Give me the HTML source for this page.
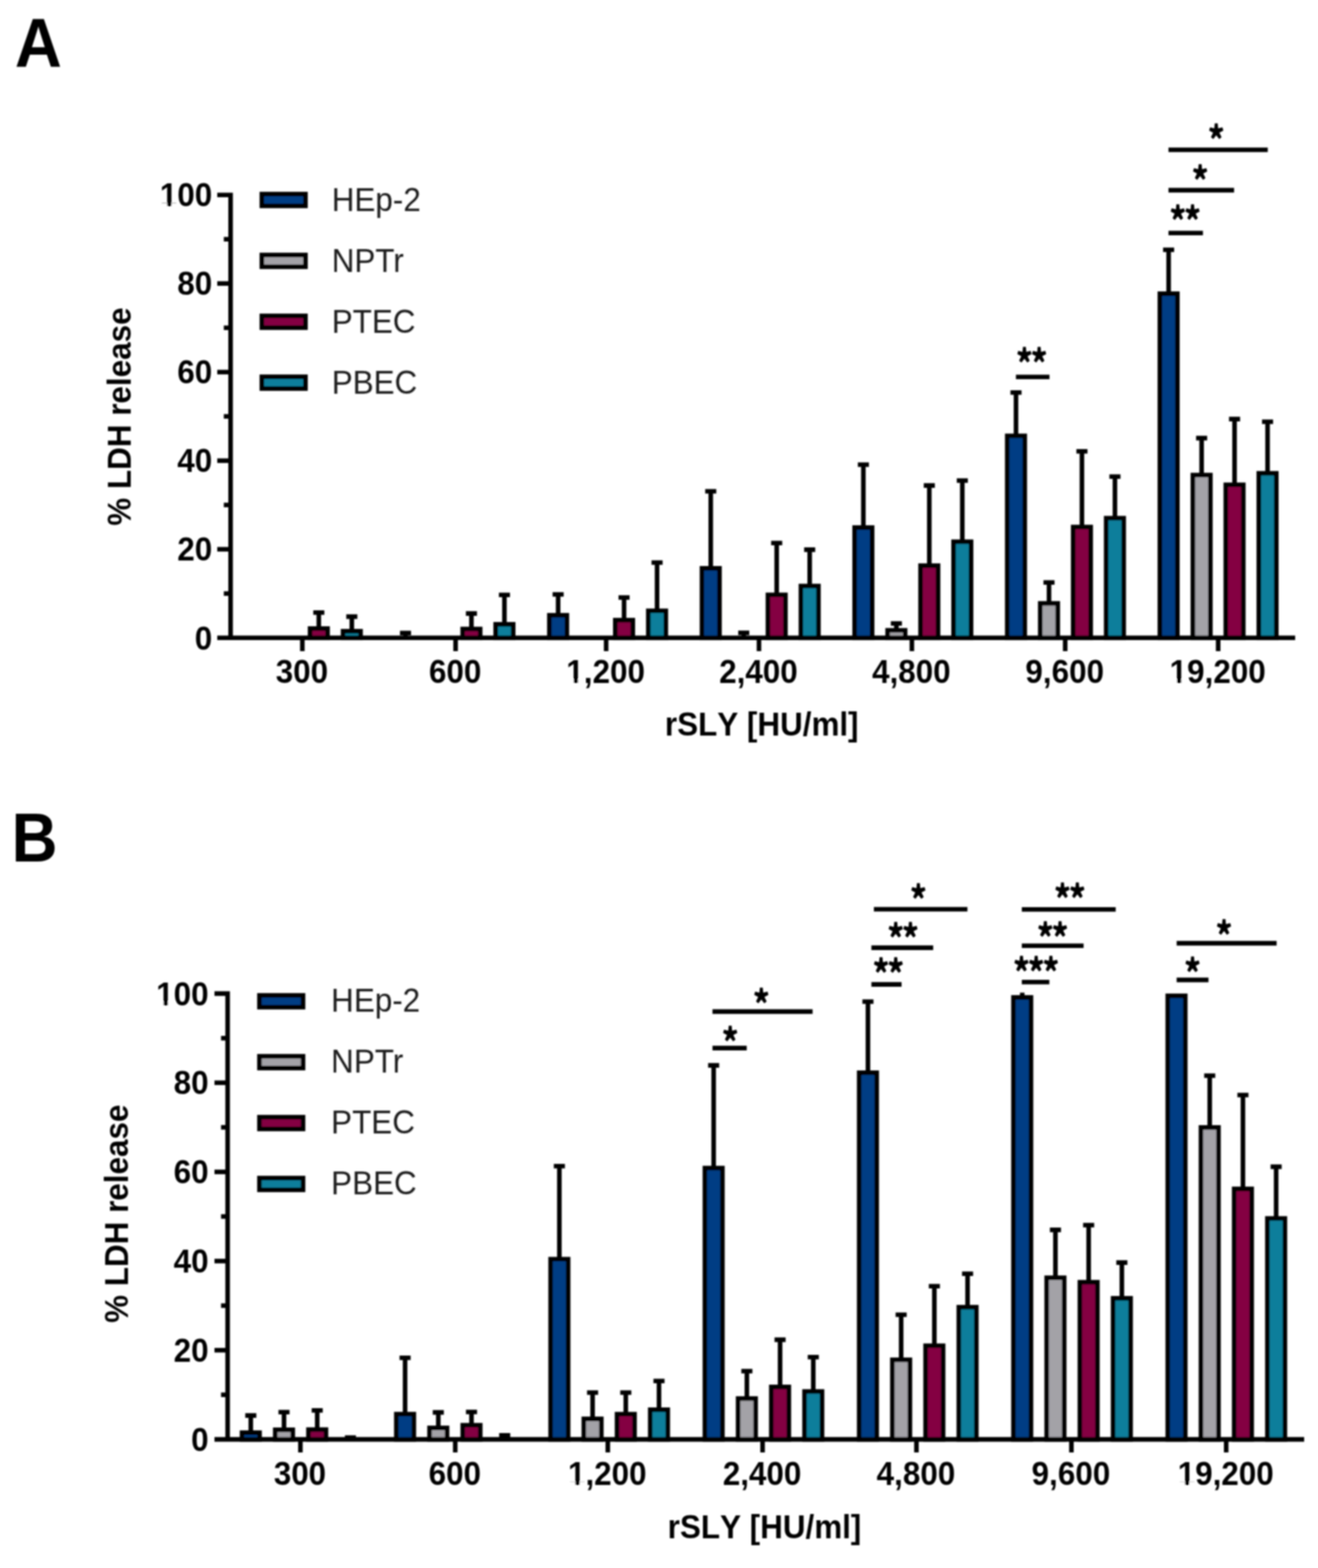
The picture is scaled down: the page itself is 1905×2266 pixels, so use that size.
<!DOCTYPE html>
<html><head><meta charset="utf-8"><title>LDH release</title>
<style>
html,body{margin:0;padding:0;background:#fff;}
::-webkit-scrollbar{display:none;}
svg{display:block;}
svg text{font-family:"Liberation Sans",Arial,sans-serif;font-kerning:none;}
</style></head><body>
<svg width="1905" height="2266" viewBox="0 0 1905 2266">
<rect width="1905" height="2266" fill="#fff"/>
<defs><filter id="bl" filterUnits="userSpaceOnUse" x="0" y="0" width="1905" height="2266"><feGaussianBlur stdDeviation="0.9"/></filter></defs>
<g id="c" filter="url(#bl)" stroke="#000" stroke-width="6.6" stroke-linejoin="miter">
<path fill="none" d="M314 281.70H333.3V921.8" />
<path fill="none" d="M314 921.8H1872" />
<path fill="none" d="M314 793.78H333.3" />
<path fill="none" d="M314 665.76H333.3" />
<path fill="none" d="M314 537.74H333.3" />
<path fill="none" d="M314 409.72H333.3" />
<path fill="none" d="M323.5 857.79H333.3" />
<path fill="none" d="M323.5 729.77H333.3" />
<path fill="none" d="M323.5 601.75H333.3" />
<path fill="none" d="M323.5 473.73H333.3" />
<path fill="none" d="M323.5 345.71H333.3" />
<path fill="none" d="M437.00 921.8V941" />
<path fill="none" d="M658.50 921.8V941" />
<path fill="none" d="M876.10 921.8V941" />
<path fill="none" d="M1097.00 921.8V941" />
<path fill="none" d="M1318.00 921.8V941" />
<path fill="none" d="M1539.60 921.8V941" />
<path fill="none" d="M1760.70 921.8V941" />
<rect x="448.15" y="908.36" width="25.3" height="13.44" fill="#840042" />
<path fill="none" d="M460.80 908.36V885.31M452.80 885.31h16" />
<rect x="495.85" y="912.20" width="25.3" height="9.60" fill="#0a7e9b" />
<path fill="none" d="M508.50 912.20V891.08M500.50 891.08h16" />
<path fill="none" d="M586.10 921.80V914.76M578.10 914.76h16" />
<rect x="668.75" y="909.00" width="25.3" height="12.80" fill="#840042" />
<path fill="none" d="M681.40 909.00V886.59M673.40 886.59h16" />
<rect x="716.45" y="902.21" width="25.3" height="19.59" fill="#0a7e9b" />
<path fill="none" d="M729.10 902.21V859.71M721.10 859.71h16" />
<rect x="794.05" y="889.15" width="25.3" height="32.65" fill="#063d84" />
<path fill="none" d="M806.70 889.15V859.07M798.70 859.07h16" />
<rect x="889.35" y="896.20" width="25.3" height="25.60" fill="#840042" />
<path fill="none" d="M902.00 896.20V863.55M894.00 863.55h16" />
<rect x="937.05" y="882.75" width="25.3" height="39.05" fill="#0a7e9b" />
<path fill="none" d="M949.70 882.75V812.98M941.70 812.98h16" />
<rect x="1014.65" y="821.30" width="25.3" height="100.50" fill="#063d84" />
<path fill="none" d="M1027.30 821.30V709.93M1019.30 709.93h16" />
<path fill="none" d="M1075.00 921.80V914.44M1067.00 914.44h16" />
<rect x="1109.95" y="859.71" width="25.3" height="62.09" fill="#840042" />
<path fill="none" d="M1122.60 859.71V784.82M1114.60 784.82h16" />
<rect x="1157.65" y="846.91" width="25.3" height="74.89" fill="#0a7e9b" />
<path fill="none" d="M1170.30 846.91V794.42M1162.30 794.42h16" />
<rect x="1235.25" y="762.42" width="25.3" height="159.38" fill="#063d84" />
<path fill="none" d="M1247.90 762.42V671.52M1239.90 671.52h16" />
<rect x="1282.95" y="910.92" width="25.3" height="10.88" fill="#a3a2a7" />
<path fill="none" d="M1295.60 910.92V901.00M1287.60 901.00h16" />
<rect x="1330.55" y="817.46" width="25.3" height="104.34" fill="#840042" />
<path fill="none" d="M1343.20 817.46V701.61M1335.20 701.61h16" />
<rect x="1378.25" y="782.90" width="25.3" height="138.90" fill="#0a7e9b" />
<path fill="none" d="M1390.90 782.90V694.56M1382.90 694.56h16" />
<rect x="1455.85" y="629.91" width="25.3" height="291.89" fill="#063d84" />
<path fill="none" d="M1468.50 629.91V567.18M1460.50 567.18h16" />
<rect x="1503.55" y="872.00" width="25.3" height="49.80" fill="#a3a2a7" />
<path fill="none" d="M1516.20 872.00V841.79M1508.20 841.79h16" />
<rect x="1551.15" y="761.65" width="25.3" height="160.15" fill="#840042" />
<path fill="none" d="M1563.80 761.65V652.32M1555.80 652.32h16" />
<rect x="1598.85" y="748.84" width="25.3" height="172.96" fill="#0a7e9b" />
<path fill="none" d="M1611.50 748.84V688.80M1603.50 688.80h16" />
<rect x="1676.45" y="424.44" width="25.3" height="497.36" fill="#063d84" />
<path fill="none" d="M1689.10 424.44V361.07M1681.10 361.07h16" />
<rect x="1724.15" y="686.56" width="25.3" height="235.24" fill="#a3a2a7" />
<path fill="none" d="M1736.80 686.56V633.11M1728.80 633.11h16" />
<rect x="1771.75" y="700.65" width="25.3" height="221.15" fill="#840042" />
<path fill="none" d="M1784.40 700.65V605.59M1776.40 605.59h16" />
<rect x="1819.45" y="684.00" width="25.3" height="237.80" fill="#0a7e9b" />
<path fill="none" d="M1832.10 684.00V609.43M1824.10 609.43h16" />
<text stroke="none" transform="translate(306.80,938.50) scale(1,1.075)" font-size="45.4" font-weight="bold" text-anchor="end" fill="#000">0</text>
<text stroke="none" transform="translate(306.80,810.48) scale(1,1.075)" font-size="45.4" font-weight="bold" text-anchor="end" fill="#000">20</text>
<text stroke="none" transform="translate(306.80,682.46) scale(1,1.075)" font-size="45.4" font-weight="bold" text-anchor="end" fill="#000">40</text>
<text stroke="none" transform="translate(306.80,554.44) scale(1,1.075)" font-size="45.4" font-weight="bold" text-anchor="end" fill="#000">60</text>
<text stroke="none" transform="translate(306.80,426.42) scale(1,1.075)" font-size="45.4" font-weight="bold" text-anchor="end" fill="#000">80</text>
<text stroke="none" transform="translate(306.80,298.40) scale(1,1.075)" font-size="45.4" font-weight="bold" text-anchor="end" fill="#000">100</text>
<rect stroke="none" fill="#fff" x="233.11" y="293.42" width="8.54" height="6.18" />
<rect stroke="none" fill="#fff" x="247.88" y="293.42" width="7.96" height="6.18" />
<text stroke="none" transform="translate(436.30,986.80) scale(1,1.075)" font-size="45.4" font-weight="bold" text-anchor="middle" fill="#000">300</text>
<text stroke="none" transform="translate(657.80,986.80) scale(1,1.075)" font-size="45.4" font-weight="bold" text-anchor="middle" fill="#000">600</text>
<text stroke="none" transform="translate(875.40,986.80) scale(1,1.075)" font-size="45.4" font-weight="bold" text-anchor="middle" fill="#000">1,200</text>
<rect stroke="none" fill="#fff" x="820.65" y="981.82" width="8.54" height="6.18" />
<rect stroke="none" fill="#fff" x="835.42" y="981.82" width="7.96" height="6.18" />
<text stroke="none" transform="translate(1096.30,986.80) scale(1,1.075)" font-size="45.4" font-weight="bold" text-anchor="middle" fill="#000">2,400</text>
<text stroke="none" transform="translate(1317.30,986.80) scale(1,1.075)" font-size="45.4" font-weight="bold" text-anchor="middle" fill="#000">4,800</text>
<text stroke="none" transform="translate(1538.90,986.80) scale(1,1.075)" font-size="45.4" font-weight="bold" text-anchor="middle" fill="#000">9,600</text>
<text stroke="none" transform="translate(1760.00,986.80) scale(1,1.075)" font-size="45.4" font-weight="bold" text-anchor="middle" fill="#000">19,200</text>
<rect stroke="none" fill="#fff" x="1692.63" y="981.82" width="8.54" height="6.18" />
<rect stroke="none" fill="#fff" x="1707.40" y="981.82" width="7.96" height="6.18" />
<text stroke="none" transform="translate(1101.00,1063.40) scale(1,1.075)" font-size="45.4" font-weight="bold" text-anchor="middle" fill="#000">rSLY [HU/ml]</text>
<text stroke="none" transform="translate(189.20,602.00) rotate(-90) scale(1,1.075)" font-size="45.4" font-weight="bold" text-anchor="middle" fill="#000">% LDH release</text>
<text stroke="none" transform="translate(21.60,96.50) scale(1,1.066)" font-size="94" font-weight="bold" text-anchor="start" fill="#000">A</text>
<rect x="378.5" y="280.50" width="63" height="17" fill="#063d84" />
<text stroke="none" transform="translate(479.50,305.20) scale(1,1.075)" font-size="45.4" font-weight="normal" text-anchor="start" fill="#1a1a1a" style="font-kerning:normal">HEp-2</text>
<rect x="378.5" y="368.50" width="63" height="17" fill="#a3a2a7" />
<text stroke="none" transform="translate(479.50,393.20) scale(1,1.075)" font-size="45.4" font-weight="normal" text-anchor="start" fill="#1a1a1a" style="font-kerning:normal">NPTr</text>
<rect x="378.5" y="456.50" width="63" height="17" fill="#840042" />
<text stroke="none" transform="translate(479.50,481.20) scale(1,1.075)" font-size="45.4" font-weight="normal" text-anchor="start" fill="#1a1a1a" style="font-kerning:normal">PTEC</text>
<rect x="378.5" y="544.50" width="63" height="17" fill="#0a7e9b" />
<text stroke="none" transform="translate(479.50,569.20) scale(1,1.075)" font-size="45.4" font-weight="normal" text-anchor="start" fill="#1a1a1a" style="font-kerning:normal">PBEC</text>
<path fill="none" d="M1468.4 544.7H1516.9" />
<text stroke="none" transform="translate(1489.70,545.20) scale(1,1.16)" font-size="46" font-weight="900" text-anchor="middle" fill="#000" style="font-family:&quot;Noto Sans CJK SC&quot;,sans-serif" letter-spacing="-3.0">**</text>
<path fill="none" d="M1688.9 336.8H1738.7" />
<text stroke="none" transform="translate(1711.50,338.70) scale(1,1.16)" font-size="46" font-weight="900" text-anchor="middle" fill="#000" style="font-family:&quot;Noto Sans CJK SC&quot;,sans-serif" letter-spacing="-3.0">**</text>
<path fill="none" d="M1688.9 274.9H1783.7" />
<text stroke="none" transform="translate(1733.20,281.40) scale(1,1.16)" font-size="46" font-weight="900" text-anchor="middle" fill="#000" style="font-family:&quot;Noto Sans CJK SC&quot;,sans-serif" letter-spacing="-3.0">*</text>
<path fill="none" d="M1688.9 216.5H1832.4" />
<text stroke="none" transform="translate(1756.50,222.20) scale(1,1.16)" font-size="46" font-weight="900" text-anchor="middle" fill="#000" style="font-family:&quot;Noto Sans CJK SC&quot;,sans-serif" letter-spacing="-3.0">*</text>
<path fill="none" d="M310 1435.90H329V2080.1" />
<path fill="none" d="M310 2080.1H1885" />
<path fill="none" d="M310 1951.26H329" />
<path fill="none" d="M310 1822.42H329" />
<path fill="none" d="M310 1693.58H329" />
<path fill="none" d="M310 1564.74H329" />
<path fill="none" d="M319.5 2015.68H329" />
<path fill="none" d="M319.5 1886.84H329" />
<path fill="none" d="M319.5 1758.00H329" />
<path fill="none" d="M319.5 1629.16H329" />
<path fill="none" d="M319.5 1500.32H329" />
<path fill="none" d="M434.20 2080.1V2099" />
<path fill="none" d="M658.00 2080.1V2099" />
<path fill="none" d="M878.50 2080.1V2099" />
<path fill="none" d="M1102.20 2080.1V2099" />
<path fill="none" d="M1324.60 2080.1V2099" />
<path fill="none" d="M1548.60 2080.1V2099" />
<path fill="none" d="M1772.30 2080.1V2099" />
<rect x="349.85" y="2070.44" width="25.3" height="9.66" fill="#063d84" />
<path fill="none" d="M362.50 2070.44V2045.64M354.50 2045.64h16" />
<rect x="397.85" y="2066.25" width="25.3" height="13.85" fill="#a3a2a7" />
<path fill="none" d="M410.50 2066.25V2040.80M402.50 2040.80h16" />
<rect x="445.85" y="2065.99" width="25.3" height="14.11" fill="#840042" />
<path fill="none" d="M458.50 2065.99V2038.23M450.50 2038.23h16" />
<path fill="none" d="M506.50 2080.10V2077.52M498.50 2077.52h16" />
<rect x="572.85" y="2043.64" width="25.3" height="36.46" fill="#063d84" />
<path fill="none" d="M585.50 2043.64V1962.21M577.50 1962.21h16" />
<rect x="620.85" y="2063.54" width="25.3" height="16.56" fill="#a3a2a7" />
<path fill="none" d="M633.50 2063.54V2041.13M625.50 2041.13h16" />
<rect x="668.85" y="2059.68" width="25.3" height="20.42" fill="#840042" />
<path fill="none" d="M681.50 2059.68V2040.48M673.50 2040.48h16" />
<path fill="none" d="M729.50 2080.10V2074.30M721.50 2074.30h16" />
<rect x="795.85" y="1819.71" width="25.3" height="260.39" fill="#063d84" />
<path fill="none" d="M808.50 1819.71V1685.21M800.50 1685.21h16" />
<rect x="843.85" y="2050.47" width="25.3" height="29.63" fill="#a3a2a7" />
<path fill="none" d="M856.50 2050.47V2012.46M848.50 2012.46h16" />
<rect x="891.85" y="2043.70" width="25.3" height="36.40" fill="#840042" />
<path fill="none" d="M904.50 2043.70V2012.46M896.50 2012.46h16" />
<rect x="939.85" y="2037.26" width="25.3" height="42.84" fill="#0a7e9b" />
<path fill="none" d="M952.50 2037.26V1995.71M944.50 1995.71h16" />
<rect x="1018.85" y="1688.04" width="25.3" height="392.06" fill="#063d84" />
<path fill="none" d="M1031.50 1688.04V1539.62M1023.50 1539.62h16" />
<rect x="1066.85" y="2021.09" width="25.3" height="59.01" fill="#a3a2a7" />
<path fill="none" d="M1079.50 2021.09V1981.54M1071.50 1981.54h16" />
<rect x="1114.85" y="2004.34" width="25.3" height="75.76" fill="#840042" />
<path fill="none" d="M1127.50 2004.34V1936.12M1119.50 1936.12h16" />
<rect x="1162.85" y="2010.91" width="25.3" height="69.19" fill="#0a7e9b" />
<path fill="none" d="M1175.50 2010.91V1961.25M1167.50 1961.25h16" />
<rect x="1241.85" y="1550.25" width="25.3" height="529.85" fill="#063d84" />
<path fill="none" d="M1254.50 1550.25V1447.50M1246.50 1447.50h16" />
<rect x="1289.85" y="1965.11" width="25.3" height="114.99" fill="#a3a2a7" />
<path fill="none" d="M1302.50 1965.11V1900.05M1294.50 1900.05h16" />
<rect x="1337.85" y="1944.82" width="25.3" height="135.28" fill="#840042" />
<path fill="none" d="M1350.50 1944.82V1858.82M1342.50 1858.82h16" />
<rect x="1385.85" y="1889.09" width="25.3" height="191.01" fill="#0a7e9b" />
<path fill="none" d="M1398.50 1889.09V1840.78M1390.50 1840.78h16" />
<rect x="1464.85" y="1441.44" width="25.3" height="638.66" fill="#063d84" />
<path fill="none" d="M1477.50 1441.44V1434.54" />
<rect x="1512.85" y="1846.58" width="25.3" height="233.52" fill="#a3a2a7" />
<path fill="none" d="M1525.50 1846.58V1777.33M1517.50 1777.33h16" />
<rect x="1560.85" y="1853.02" width="25.3" height="227.08" fill="#840042" />
<path fill="none" d="M1573.50 1853.02V1770.56M1565.50 1770.56h16" />
<rect x="1608.85" y="1876.21" width="25.3" height="203.89" fill="#0a7e9b" />
<path fill="none" d="M1621.50 1876.21V1824.67M1613.50 1824.67h16" />
<rect x="1687.85" y="1439.12" width="25.3" height="640.98" fill="#063d84" />
<rect x="1735.85" y="1629.35" width="25.3" height="450.75" fill="#a3a2a7" />
<path fill="none" d="M1748.50 1629.35V1554.43M1740.50 1554.43h16" />
<rect x="1783.85" y="1718.12" width="25.3" height="361.98" fill="#840042" />
<path fill="none" d="M1796.50 1718.12V1582.46M1788.50 1582.46h16" />
<rect x="1831.85" y="1760.83" width="25.3" height="319.27" fill="#0a7e9b" />
<path fill="none" d="M1844.50 1760.83V1686.17M1836.50 1686.17h16" />
<text stroke="none" transform="translate(301.60,2096.80) scale(1,1.075)" font-size="45.4" font-weight="bold" text-anchor="end" fill="#000">0</text>
<text stroke="none" transform="translate(301.60,1967.96) scale(1,1.075)" font-size="45.4" font-weight="bold" text-anchor="end" fill="#000">20</text>
<text stroke="none" transform="translate(301.60,1839.12) scale(1,1.075)" font-size="45.4" font-weight="bold" text-anchor="end" fill="#000">40</text>
<text stroke="none" transform="translate(301.60,1710.28) scale(1,1.075)" font-size="45.4" font-weight="bold" text-anchor="end" fill="#000">60</text>
<text stroke="none" transform="translate(301.60,1581.44) scale(1,1.075)" font-size="45.4" font-weight="bold" text-anchor="end" fill="#000">80</text>
<text stroke="none" transform="translate(301.60,1452.60) scale(1,1.075)" font-size="45.4" font-weight="bold" text-anchor="end" fill="#000">100</text>
<rect stroke="none" fill="#fff" x="227.91" y="1447.62" width="8.54" height="6.18" />
<rect stroke="none" fill="#fff" x="242.68" y="1447.62" width="7.96" height="6.18" />
<text stroke="none" transform="translate(433.50,2146.20) scale(1,1.075)" font-size="45.4" font-weight="bold" text-anchor="middle" fill="#000">300</text>
<text stroke="none" transform="translate(657.30,2146.20) scale(1,1.075)" font-size="45.4" font-weight="bold" text-anchor="middle" fill="#000">600</text>
<text stroke="none" transform="translate(877.80,2146.20) scale(1,1.075)" font-size="45.4" font-weight="bold" text-anchor="middle" fill="#000">1,200</text>
<rect stroke="none" fill="#fff" x="823.05" y="2141.22" width="8.54" height="6.18" />
<rect stroke="none" fill="#fff" x="837.82" y="2141.22" width="7.96" height="6.18" />
<text stroke="none" transform="translate(1101.50,2146.20) scale(1,1.075)" font-size="45.4" font-weight="bold" text-anchor="middle" fill="#000">2,400</text>
<text stroke="none" transform="translate(1323.90,2146.20) scale(1,1.075)" font-size="45.4" font-weight="bold" text-anchor="middle" fill="#000">4,800</text>
<text stroke="none" transform="translate(1547.90,2146.20) scale(1,1.075)" font-size="45.4" font-weight="bold" text-anchor="middle" fill="#000">9,600</text>
<text stroke="none" transform="translate(1771.60,2146.20) scale(1,1.075)" font-size="45.4" font-weight="bold" text-anchor="middle" fill="#000">19,200</text>
<rect stroke="none" fill="#fff" x="1704.23" y="2141.22" width="8.54" height="6.18" />
<rect stroke="none" fill="#fff" x="1719.00" y="2141.22" width="7.96" height="6.18" />
<text stroke="none" transform="translate(1105.00,2223.30) scale(1,1.075)" font-size="45.4" font-weight="bold" text-anchor="middle" fill="#000">rSLY [HU/ml]</text>
<text stroke="none" transform="translate(185.20,1754.00) rotate(-90) scale(1,1.075)" font-size="45.4" font-weight="bold" text-anchor="middle" fill="#000">% LDH release</text>
<text stroke="none" transform="translate(16.80,1245.30) scale(1,1.087)" font-size="92" font-weight="bold" text-anchor="start" fill="#000">B</text>
<rect x="375" y="1438.50" width="63" height="17" fill="#063d84" />
<text stroke="none" transform="translate(478.60,1462.20) scale(1,1.075)" font-size="45.4" font-weight="normal" text-anchor="start" fill="#1a1a1a" style="font-kerning:normal">HEp-2</text>
<rect x="375" y="1526.50" width="63" height="17" fill="#a3a2a7" />
<text stroke="none" transform="translate(478.60,1550.20) scale(1,1.075)" font-size="45.4" font-weight="normal" text-anchor="start" fill="#1a1a1a" style="font-kerning:normal">NPTr</text>
<rect x="375" y="1614.50" width="63" height="17" fill="#840042" />
<text stroke="none" transform="translate(478.60,1638.20) scale(1,1.075)" font-size="45.4" font-weight="normal" text-anchor="start" fill="#1a1a1a" style="font-kerning:normal">PTEC</text>
<rect x="375" y="1702.50" width="63" height="17" fill="#0a7e9b" />
<text stroke="none" transform="translate(478.60,1726.20) scale(1,1.075)" font-size="45.4" font-weight="normal" text-anchor="start" fill="#1a1a1a" style="font-kerning:normal">PBEC</text>
<path fill="none" d="M1029.8 1514.6H1079.3" />
<text stroke="none" transform="translate(1053.80,1526.20) scale(1,1.16)" font-size="46" font-weight="900" text-anchor="middle" fill="#000" style="font-family:&quot;Noto Sans CJK SC&quot;,sans-serif" letter-spacing="-3.0">*</text>
<path fill="none" d="M1029.8 1461.9H1174.5" />
<text stroke="none" transform="translate(1098.80,1470.90) scale(1,1.16)" font-size="46" font-weight="900" text-anchor="middle" fill="#000" style="font-family:&quot;Noto Sans CJK SC&quot;,sans-serif" letter-spacing="-3.0">*</text>
<path fill="none" d="M1259.5 1422.6H1303.1" />
<text stroke="none" transform="translate(1282.50,1427.40) scale(1,1.16)" font-size="46" font-weight="900" text-anchor="middle" fill="#000" style="font-family:&quot;Noto Sans CJK SC&quot;,sans-serif" letter-spacing="-3.0">**</text>
<path fill="none" d="M1259.5 1369.6H1348.8" />
<text stroke="none" transform="translate(1303.80,1376.20) scale(1,1.16)" font-size="46" font-weight="900" text-anchor="middle" fill="#000" style="font-family:&quot;Noto Sans CJK SC&quot;,sans-serif" letter-spacing="-3.0">**</text>
<path fill="none" d="M1263.1 1314H1398.3" />
<text stroke="none" transform="translate(1325.90,1320.20) scale(1,1.16)" font-size="46" font-weight="900" text-anchor="middle" fill="#000" style="font-family:&quot;Noto Sans CJK SC&quot;,sans-serif" letter-spacing="-3.0">*</text>
<path fill="none" d="M1476.9 1419.3H1516.7" />
<text stroke="none" transform="translate(1496.20,1425.00) scale(1,1.16)" font-size="46" font-weight="900" text-anchor="middle" fill="#000" style="font-family:&quot;Noto Sans CJK SC&quot;,sans-serif" letter-spacing="-3.0">***</text>
<path fill="none" d="M1476.9 1366.7H1566.2" />
<text stroke="none" transform="translate(1520.00,1375.00) scale(1,1.16)" font-size="46" font-weight="900" text-anchor="middle" fill="#000" style="font-family:&quot;Noto Sans CJK SC&quot;,sans-serif" letter-spacing="-3.0">**</text>
<path fill="none" d="M1476.9 1314.3H1612.6" />
<text stroke="none" transform="translate(1544.90,1319.00) scale(1,1.16)" font-size="46" font-weight="900" text-anchor="middle" fill="#000" style="font-family:&quot;Noto Sans CJK SC&quot;,sans-serif" letter-spacing="-3.0">**</text>
<path fill="none" d="M1700.7 1416.1H1746.7" />
<text stroke="none" transform="translate(1722.10,1425.70) scale(1,1.16)" font-size="46" font-weight="900" text-anchor="middle" fill="#000" style="font-family:&quot;Noto Sans CJK SC&quot;,sans-serif" letter-spacing="-3.0">*</text>
<path fill="none" d="M1700.7 1363.1H1845.2" />
<text stroke="none" transform="translate(1767.60,1372.10) scale(1,1.16)" font-size="46" font-weight="900" text-anchor="middle" fill="#000" style="font-family:&quot;Noto Sans CJK SC&quot;,sans-serif" letter-spacing="-3.0">*</text>
</g>
</svg>
</body></html>
